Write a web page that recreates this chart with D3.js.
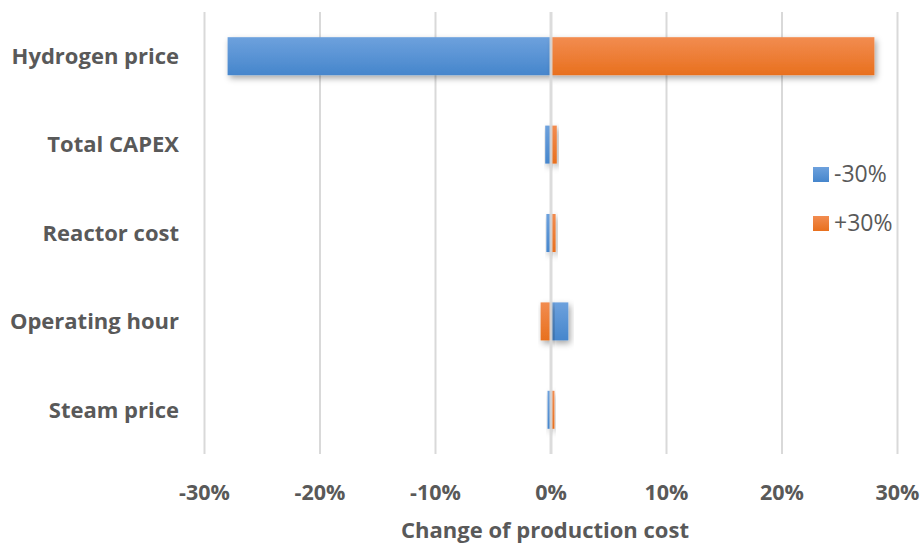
<!DOCTYPE html>
<html><head><meta charset="utf-8">
<script src="https://cdn.jsdelivr.net/npm/d3@7"></script>
<style>body{margin:0;background:#fff}svg{display:block}</style>
</head><body>
<svg id="c" width="922" height="544"></svg>
<script>
const categories = ["Hydrogen price","Total CAPEX","Reactor cost","Operating hour","Steam price"];
const minus30 = [-28, -0.5, -0.4, 1.5, -0.3];
const plus30 = [28, 0.5, 0.4, -0.9, 0.3];
const seriesNames = ["-30%","+30%"];
const ticks = [-30,-20,-10,0,10,20,30];
const axisTitle = "Change of production cost";

const svg = d3.select("#c");
const x = d3.scaleLinear().domain([-30,30]).range([204.5,897.5]);
const y = d3.scaleBand().domain(categories).range([12,454]).paddingInner(0.57).paddingOuter(0.285);
const textCol = "#595959";
const font = "Open Sans, sans-serif";

const defs = svg.append("defs");
const gB = defs.append("linearGradient").attr("id","gb").attr("x1",0).attr("y1",0).attr("x2",0).attr("y2",1);
gB.append("stop").attr("offset","0%").attr("stop-color","#6da1dd");
gB.append("stop").attr("offset","100%").attr("stop-color","#4686cc");
const gO = defs.append("linearGradient").attr("id","go").attr("x1",0).attr("y1",0).attr("x2",0).attr("y2",1);
gO.append("stop").attr("offset","0%").attr("stop-color","#f28c50");
gO.append("stop").attr("offset","100%").attr("stop-color","#e8701e");
const f = defs.append("filter").attr("id","sh").attr("x","-20%").attr("y","-30%").attr("width","150%").attr("height","180%");
f.append("feDropShadow").attr("dx",2).attr("dy",3).attr("stdDeviation",3).attr("flood-color","#000").attr("flood-opacity",0.35);

// gridlines
svg.append("g").selectAll("line").data(ticks.filter(t=>t!==0)).join("line")
  .attr("x1",d=>x(d)).attr("x2",d=>x(d)).attr("y1",12).attr("y2",454)
  .attr("stroke","#d9d9d9").attr("stroke-width",2);

const bars = svg.append("g");
function drawSeries(vals, fill){
  bars.append("g").selectAll("rect").data(vals.map((v,i)=>({v,c:categories[i]}))).join("rect")
    .attr("x",d=>x(Math.min(0,d.v))).attr("width",d=>Math.abs(x(d.v)-x(0)))
    .attr("y",d=>y(d.c)).attr("height",y.bandwidth())
    .attr("fill",fill).attr("filter","url(#sh)");
}
drawSeries(minus30,"url(#gb)");
drawSeries(plus30,"url(#go)");

// zero line on top
svg.append("line").attr("x1",x(0)).attr("x2",x(0)).attr("y1",12).attr("y2",454)
  .attr("stroke","#d9d9d9").attr("stroke-width",3).attr("opacity",0.9);

// y labels
svg.append("g").selectAll("text").data(categories).join("text")
  .attr("x",179).attr("y",d=>y(d)+y.bandwidth()/2).attr("dy","0.35em")
  .attr("text-anchor","end").attr("font-family",font).attr("font-weight","bold")
  .attr("font-size",22).attr("fill",textCol).text(d=>d);

// x tick labels
svg.append("g").selectAll("text").data(ticks).join("text")
  .attr("x",d=>x(d)).attr("y",492).attr("dy","0.35em").attr("text-anchor","middle")
  .attr("font-family",font).attr("font-weight","bold")
  .attr("font-size",21.5).attr("fill",textCol).text(d=>(d<0?"-":"")+Math.abs(d)+"%");

svg.append("text").attr("x",545).attr("y",530).attr("dy","0.35em").attr("text-anchor","middle")
  .attr("font-family",font).attr("font-weight","bold")
  .attr("font-size",22).attr("fill",textCol).text(axisTitle);

// legend
const lg = svg.append("g");
seriesNames.forEach((s,i)=>{
  const yy = 174 + i*49;
  lg.append("rect").attr("x",813).attr("y",yy-7).attr("width",16).attr("height",15).attr("fill",i?"url(#go)":"url(#gb)");
  lg.append("text").attr("x",834).attr("y",yy).attr("dy","0.35em")
    .attr("font-family",font).attr("font-size",23).attr("fill",textCol).text(s);
});
</script>
</body></html>
